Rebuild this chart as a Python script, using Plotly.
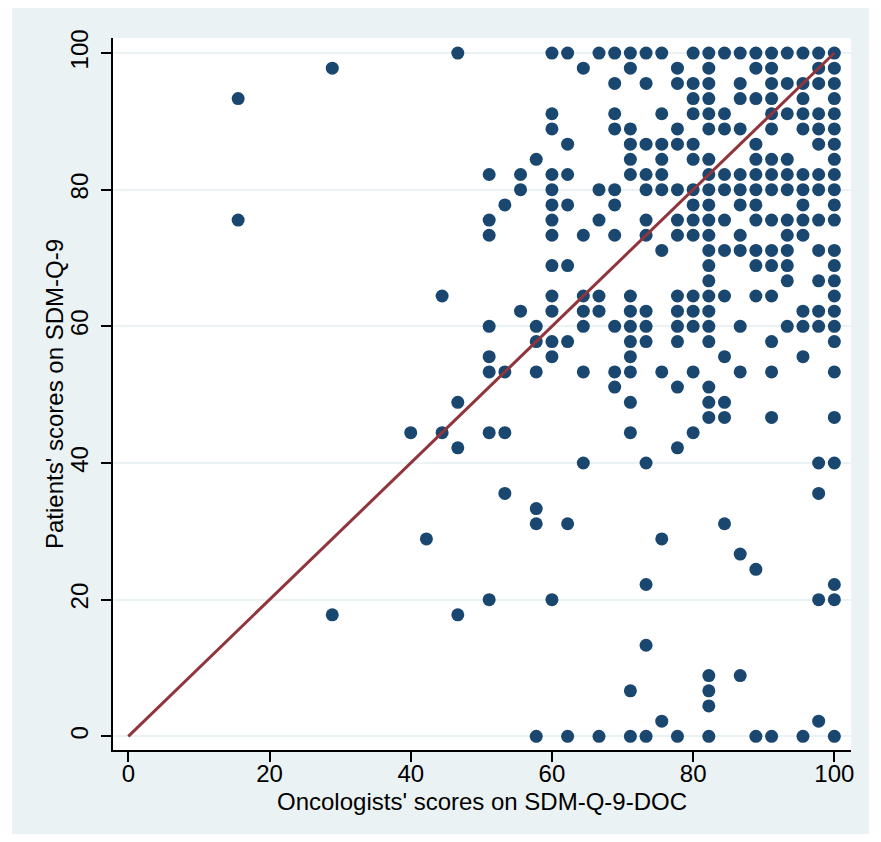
import plotly.graph_objects as go

# SDM-Q-9 raw sums (0-45), rescaled to 0-100 as in the questionnaire scoring
RAW_MAX = 45

# Patient raw score levels (rows of the grid) and oncologist raw scores observed at each level
patient_levels = [45, 44, 43, 42, 41, 40, 39, 38, 37, 36, 35, 34, 33, 32, 31, 30,
                  29, 28, 27, 26, 25, 24, 23, 22, 21, 20, 19, 18, 16, 15, 14, 13,
                  12, 11, 10, 9, 8, 6, 4, 3, 2, 1, 0]

oncologist_at_level = [
    [21, 27, 28, 30, 31, 32, 33, 34, 36, 37, 38, 39, 40, 41, 42, 43, 44, 45],  # 45
    [13, 29, 32, 35, 37, 40, 41, 44, 45],                                      # 44
    [31, 33, 35, 36, 37, 39, 41, 42, 43, 44, 45],                              # 43
    [7, 36, 37, 39, 40, 41, 43, 45],                                           # 42
    [27, 31, 34, 36, 37, 38, 41, 42, 43, 44, 45],                              # 41
    [27, 31, 32, 35, 37, 38, 39, 41, 43, 44, 45],                              # 40
    [28, 32, 33, 34, 35, 36, 40, 44, 45],                                      # 39
    [26, 32, 34, 36, 37, 40, 41, 42, 45],                                      # 38
    [23, 25, 27, 28, 32, 33, 34, 37, 38, 39, 40, 41, 42, 43, 44, 45],          # 37
    [25, 27, 30, 31, 33, 34, 35, 36, 37, 38, 39, 40, 41, 42, 43, 44, 45],      # 36
    [24, 27, 28, 31, 36, 37, 39, 40, 43, 45],                                  # 35
    [7, 23, 27, 30, 33, 35, 36, 37, 38, 40, 41, 42, 43, 44, 45],               # 34
    [23, 27, 29, 31, 33, 35, 36, 37, 39, 42, 43],                              # 33
    [34, 37, 38, 39, 40, 41, 42, 44, 45],                                      # 32
    [27, 28, 37, 40, 41, 42, 45],                                              # 31
    [37, 42, 44, 45],                                                          # 30
    [20, 27, 29, 30, 32, 35, 36, 37, 38, 40, 41, 45],                          # 29
    [25, 27, 29, 30, 32, 33, 35, 36, 37, 43, 44, 45],                          # 28
    [23, 26, 29, 31, 32, 33, 35, 36, 37, 39, 42, 43, 44, 45],                  # 27
    [26, 27, 28, 32, 33, 35, 37, 41, 45],                                      # 26
    [23, 27, 32, 38, 43],                                                      # 25
    [23, 24, 26, 29, 31, 32, 34, 36, 39, 41, 45],                              # 24
    [31, 35, 37],                                                              # 23
    [21, 32, 37, 38],                                                          # 22
    [37, 38, 41, 45],                                                          # 21
    [18, 20, 23, 24, 32, 36],                                                  # 20
    [21, 35],                                                                  # 19
    [29, 33, 44, 45],                                                          # 18
    [24, 44],                                                                  # 16
    [26],                                                                      # 15
    [26, 28, 38],                                                              # 14
    [19, 34],                                                                  # 13
    [39],                                                                      # 12
    [40],                                                                      # 11
    [33, 45],                                                                  # 10
    [23, 27, 44, 45],                                                          # 9
    [13, 21],                                                                  # 8
    [33],                                                                      # 6
    [37, 39],                                                                  # 4
    [32, 37],                                                                  # 3
    [37],                                                                      # 2
    [34, 44],                                                                  # 1
    [26, 28, 30, 32, 33, 35, 37, 40, 41, 43, 45],                              # 0
]

tick_values = [0, 20, 40, 60, 80, 100]
x_title = "Oncologists' scores on SDM-Q-9-DOC"
y_title = "Patients' scores on SDM-Q-9"

x_scores, y_scores = [], []
for p, docs in zip(patient_levels, oncologist_at_level):
    for d in docs:
        x_scores.append(d * 100 / RAW_MAX)
        y_scores.append(p * 100 / RAW_MAX)

NAVY = "#1A476F"
MAROON = "#90353B"
BG = "#EAF2F3"
FONT = "Liberation Sans, Arial, sans-serif"

fig = go.Figure()
fig.add_trace(go.Scatter(
    x=x_scores, y=y_scores, mode="markers",
    marker=dict(size=13, color=NAVY, line=dict(width=0)),
    showlegend=False, hoverinfo="x+y",
))
fig.add_trace(go.Scatter(
    x=[0, 100], y=[0, 100], mode="lines",
    line=dict(color=MAROON, width=3),
    showlegend=False, hoverinfo="skip",
))

# page has an 8px body margin, so the figure is a bit smaller than the window
W, H = 865, 826
ml, mr, mt, mb = 105, 22, 30, 84
pw, ph = W - ml - mr, H - mt - mb

def fx(px):
    return (px - ml) / pw

def fy(py):
    return (H - mb - py) / ph

# white strips at left / right edges (grey panel spans most of the figure)
for x0, x1 in [(-1, 4), (861, W + 1)]:
    fig.add_shape(type="rect", xref="paper", yref="paper",
                  x0=fx(x0), x1=fx(x1), y0=fy(H + 1), y1=fy(-1),
                  fillcolor="white", line=dict(width=0), layer="below")

axis_common = dict(
    showline=True, linecolor="black", linewidth=2,
    ticks="outside", ticklen=10, tickwidth=2, tickcolor="black",
    tickvals=tick_values, zeroline=False,
    tickfont=dict(family=FONT, size=24, color="black"),
    mirror=False,
)

fig.update_layout(
    width=W, height=H,
    margin=dict(l=ml, r=mr, t=mt, b=mb, pad=0),
    paper_bgcolor=BG, plot_bgcolor="white",
    font=dict(family=FONT, color="black"),
    xaxis=dict(range=[-2.17, 102.36], showgrid=False, ticklabelstandoff=-9,
               **axis_common),
    yaxis=dict(range=[-2.0, 102.2], showgrid=True, gridcolor=BG, gridwidth=2,
               tickangle=-90, ticklabelstandoff=3,
               **axis_common),
    annotations=[
        dict(text=x_title, xref="paper", yref="paper", x=0.5, y=fy(793),
             xanchor="center", yanchor="middle", showarrow=False,
             font=dict(family=FONT, size=24, color="black")),
        dict(text=y_title, xref="paper", yref="paper", x=fx(46), y=0.5,
             xanchor="center", yanchor="middle", textangle=-90, showarrow=False,
             font=dict(family=FONT, size=24, color="black")),
    ],
)

fig.write_html("out.html")
